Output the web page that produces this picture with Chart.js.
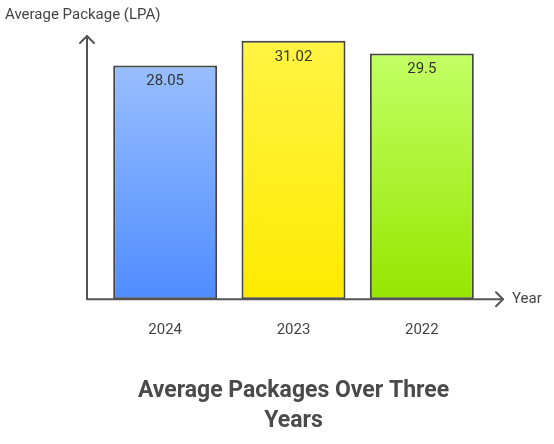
<!DOCTYPE html>
<html>
<head>
<meta charset="utf-8">
<script src="https://cdn.jsdelivr.net/npm/chart.js@4"></script>
<style>
  html, body { margin: 0; padding: 0; background: #fff; }
  #wrap { width: 554px; height: 444px; }
</style>
</head>
<body>
<div id="wrap"><canvas id="chart"></canvas></div>
<script>
const years = ["2024", "2023", "2022"];
const packages = [28.05, 31.02, 29.5];
const topColors = ["#98befe", "#fff444", "#c3ff64"];
const bottomColors = ["#4f8cff", "#ffea00", "#96e600"];
const yMax = 31.6;

const axisColor = "#555555";
const textColor = "#444444";

function barGradient(context) {
  const chart = context.chart;
  const i = context.dataIndex;
  if (!chart.chartArea || !chart.scales.y) return bottomColors[i];
  const y = chart.scales.y;
  const top = y.getPixelForValue(packages[i]);
  const bottom = y.getPixelForValue(0);
  const g = chart.ctx.createLinearGradient(0, top, 0, bottom);
  g.addColorStop(0, topColors[i]);
  g.addColorStop(1, bottomColors[i]);
  return g;
}

// axes with arrow heads, axis names and value labels
const decorations = {
  id: "decorations",
  afterDatasetsDraw(chart) {
    const { ctx, chartArea } = chart;
    const ox = chartArea.left - 14;
    const oy = chartArea.bottom;
    const yTip = chartArea.top;
    const xTip = chartArea.right + 17;

    ctx.save();
    ctx.strokeStyle = axisColor;
    ctx.lineWidth = 2;
    ctx.lineCap = "round";
    ctx.lineJoin = "round";
    ctx.beginPath();
    ctx.moveTo(ox, yTip);
    ctx.lineTo(ox, oy);
    ctx.lineTo(xTip, oy);
    ctx.stroke();

    ctx.beginPath();
    ctx.moveTo(ox - 7, yTip + 7);
    ctx.lineTo(ox, yTip);
    ctx.lineTo(ox + 7, yTip + 7);
    ctx.moveTo(xTip - 7, oy - 7);
    ctx.lineTo(xTip, oy);
    ctx.lineTo(xTip - 7, oy + 7);
    ctx.stroke();

    ctx.fillStyle = textColor;
    ctx.font = "15px Roboto";
    ctx.textBaseline = "middle";
    ctx.textAlign = "left";
    ctx.fillText("Average Package (LPA)", 5, 15);
    ctx.fillText("Year", xTip + 9, oy);

    ctx.fillStyle = "#333333";
    ctx.textAlign = "center";
    chart.getDatasetMeta(0).data.forEach((bar, i) => {
      ctx.fillText(String(packages[i]), bar.x, bar.y + 16);
    });
    ctx.restore();
  },
};

new Chart(document.getElementById("chart"), {
  type: "bar",
  data: {
    labels: years,
    datasets: [
      {
        data: packages,
        backgroundColor: barGradient,
        borderColor: "#444444",
        borderWidth: 2,
        borderSkipped: false,
        categoryPercentage: 0.81,
        barPercentage: 1,
      },
    ],
  },
  options: {
    responsive: true,
    maintainAspectRatio: false,
    animation: false,
    layout: { padding: { left: 101, right: 68, top: 36, bottom: 0 } },
    plugins: {
      legend: { display: false },
      tooltip: { enabled: false },
      title: {
        display: true,
        position: "bottom",
        text: ["Average Packages Over Three", "Years"],
        color: "#4a4a4a",
        font: { family: "Roboto", size: 23, weight: "bold", lineHeight: 1.3 },
        padding: { top: 15, bottom: 8 },
      },
    },
    scales: {
      x: {
        grid: { display: false, drawTicks: false },
        border: { display: false },
        ticks: { color: textColor, font: { family: "Roboto", size: 15 }, padding: 22 },
      },
      y: {
        display: false,
        min: 0,
        max: yMax,
      },
    },
  },
  plugins: [decorations],
});
</script>
</body>
</html>
